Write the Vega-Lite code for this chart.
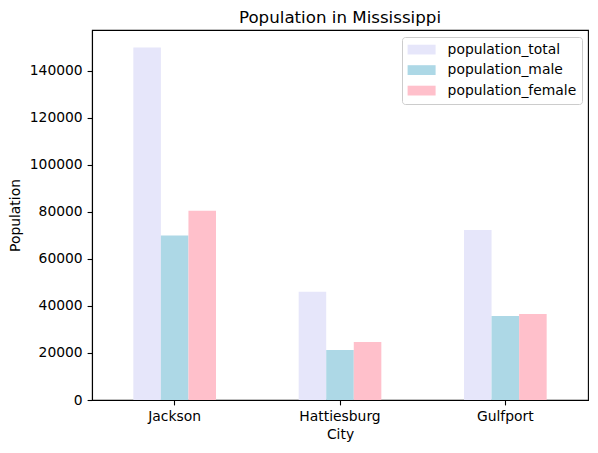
{
  "$schema": "https://vega.github.io/schema/vega-lite/v6.json",
  "autosize": "none",
  "width": 496,
  "height": 370,
  "padding": {"left": 92, "top": 30, "right": 10, "bottom": 53},
  "background": "white",
  "title": {
    "text": "Population in Mississippi",
    "font": "DejaVu Sans",
    "fontSize": 16.67,
    "fontWeight": "normal",
    "color": "black",
    "anchor": "middle",
    "frame": "group",
    "baseline": "alphabetic",
    "offset": 8.3,
    "dy": 18
  },
  "data": {
    "values": [
      {"city": "Jackson", "series": "population_total", "value": 149800},
      {"city": "Jackson", "series": "population_male", "value": 69900},
      {"city": "Jackson", "series": "population_female", "value": 80400},
      {"city": "Hattiesburg", "series": "population_total", "value": 46000},
      {"city": "Hattiesburg", "series": "population_male", "value": 21300},
      {"city": "Hattiesburg", "series": "population_female", "value": 24700},
      {"city": "Gulfport", "series": "population_total", "value": 72300},
      {"city": "Gulfport", "series": "population_male", "value": 35700},
      {"city": "Gulfport", "series": "population_female", "value": 36600}
    ]
  },
  "mark": {"type": "bar"},
  "encoding": {
    "x": {
      "field": "city",
      "type": "nominal",
      "sort": ["Jackson", "Hattiesburg", "Gulfport"],
      "scale": {"paddingInner": 0.5, "paddingOuter": 0.25},
      "axis": {"title": "City", "labelAngle": 0, "titlePadding": 4}
    },
    "xOffset": {
      "field": "series",
      "type": "nominal",
      "sort": ["population_total", "population_male", "population_female"],
      "scale": {"paddingInner": 0, "paddingOuter": 0}
    },
    "y": {
      "field": "value",
      "type": "quantitative",
      "scale": {"domain": [0, 157290], "nice": false},
      "axis": {"title": "Population", "format": "d", "values": [0, 20000, 40000, 60000, 80000, 100000, 120000, 140000], "titlePadding": 7}
    },
    "color": {
      "field": "series",
      "type": "nominal",
      "sort": ["population_total", "population_male", "population_female"],
      "scale": {"domain": ["population_total", "population_male", "population_female"], "range": ["#e6e6fa", "#add8e6", "#ffc0cb"]},
      "legend": {
        "title": null,
        "orient": "none",
        "legendX": 310,
        "legendY": 7,
        "symbolType": "M-1,-0.7H3V0.7H-1Z",
        "symbolSize": 196,
        "symbolStrokeWidth": 0,
        "symbolOpacity": 1,
        "labelFont": "DejaVu Sans",
        "labelFontSize": 13.89,
        "labelColor": "black",
        "labelOffset": 26,
        "rowPadding": 6.5,
        "padding": 5.6,
        "fillColor": "white",
        "strokeColor": "#cccccc",
        "cornerRadius": 3
      }
    }
  },
  "config": {
    "view": {"stroke": "black", "strokeWidth": 1.1},
    "axis": {
      "grid": false,
      "domainColor": "black",
      "domainWidth": 1.1,
      "tickColor": "black",
      "tickWidth": 1.1,
      "tickSize": 4.9,
      "labelPadding": 4.9,
      "labelFont": "DejaVu Sans",
      "labelFontSize": 13.89,
      "labelColor": "black",
      "titleFont": "DejaVu Sans",
      "titleFontSize": 13.89,
      "titleFontWeight": "normal",
      "titleColor": "black"
    }
  }
}
